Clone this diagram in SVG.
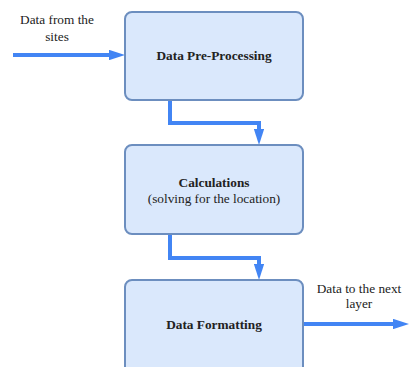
<svg xmlns="http://www.w3.org/2000/svg" width="409" height="367" viewBox="0 0 409 367">
  <style>
    .box { fill: #dae8fc; stroke: #6c8ebf; stroke-width: 2; }
    .wire { fill: none; stroke: #4285f4; stroke-width: 4; stroke-linejoin: miter; }
  </style>
  <defs>
    <!-- head starts at the end of the line and reaches 16px past it -->
    <marker id="head" markerWidth="4" markerHeight="2.6" refX="0" refY="1.3" orient="auto" markerUnits="strokeWidth">
      <path d="M0,0 L4,1.3 L0,2.6 Z" fill="#4285f4"/>
    </marker>
  </defs>
  <rect width="409" height="367" fill="#ffffff"/>

  <g id="connectors">
    <path class="wire" d="M13,55 L109,55" marker-end="url(#head)"/>
    <path class="wire" d="M170,100 L170,123 L259,123 L259,129" marker-end="url(#head)"/>
    <path class="wire" d="M170,234 L170,258 L259,258 L259,264" marker-end="url(#head)"/>
    <path class="wire" d="M303,324 L393,324" marker-end="url(#head)"/>
  </g>

  <g font-family="Liberation Serif, DejaVu Serif, serif" font-size="13.3" fill="#222" text-anchor="middle">
    <g id="label-in">
      <text x="57" y="24">Data from the</text>
      <text x="57" y="41">sites</text>
    </g>

    <g id="label-out">
      <text x="359" y="292.5">Data to the next</text>
      <text x="359" y="308">layer</text>
    </g>

    <g id="preprocessing">
      <rect class="box" x="125" y="12" width="178" height="88" rx="7"/>
      <text x="214" y="59.5" font-weight="bold">Data Pre-Processing</text>
    </g>

    <g id="calculations">
      <rect class="box" x="125" y="145" width="178" height="89" rx="7"/>
      <text x="214" y="186.5" font-weight="bold">Calculations</text>
      <text x="214" y="203">(solving for the location)</text>
    </g>

    <g id="formatting">
      <rect class="box" x="125" y="280" width="178" height="95" rx="7"/>
      <text x="214" y="328.5" font-weight="bold">Data Formatting</text>
    </g>
  </g>
</svg>
